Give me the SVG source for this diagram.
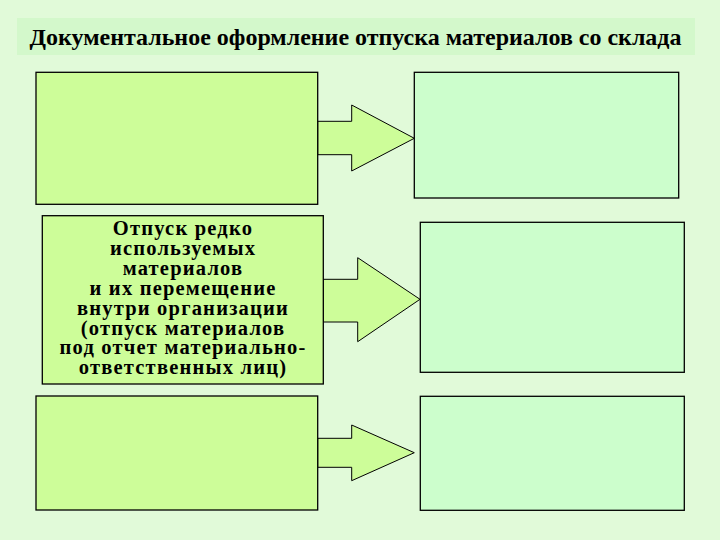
<svg xmlns="http://www.w3.org/2000/svg" width="720" height="540" viewBox="0 0 720 540">
<style>
.bg{fill:#e1fad9}
.bar{fill:#d3f8cb}
.lbox{fill:#cdfd99;stroke:#000;stroke-width:1.3}
.rbox{fill:#ccfecc;stroke:#000;stroke-width:1.3}
.arr{fill:#cdfd99;stroke:#000;stroke-width:1}
.title{font-family:"Liberation Serif","Times New Roman",serif;font-weight:bold;font-size:23px;fill:#000}
.lbl{font-family:"Liberation Serif","Times New Roman",serif;font-weight:bold;font-size:20.5px;letter-spacing:1.2px;fill:#000;text-anchor:middle}
</style>
<rect class="bg" x="0" y="0" width="720" height="540"/>
<g id="title">
<rect class="bar" x="17" y="18" width="678" height="37"/>
<text class="title" x="29.5" y="45" textLength="652" lengthAdjust="spacingAndGlyphs">Документальное оформление отпуска материалов со склада</text>
</g>
<g id="connectors">
<polygon class="arr" points="317.7,121.3 351.7,121.3 351.7,105 414.3,138.3 351.7,171 351.7,154.7 317.7,154.7"/>
<polygon class="arr" points="323.3,279.3 357.7,279.3 357.7,257.7 420,299.3 357.7,341.7 357.7,322 323.3,322"/>
<polygon class="arr" points="317.7,438.3 351.7,438.3 351.7,425 414.3,452.7 351.7,480.7 351.7,467.3 317.7,467.3"/>
</g>
<g id="left-top"><rect class="lbox" x="36" y="72.3" width="281.7" height="132"/></g>
<g id="left-middle">
<rect class="lbox" x="42.3" y="215.7" width="281" height="168.3"/>
<text class="lbl" x="183" y="235">Отпуск редко</text>
<text class="lbl" x="183" y="254.9">используемых</text>
<text class="lbl" x="183" y="274.8">материалов</text>
<text class="lbl" x="183" y="294.7">и их перемещение</text>
<text class="lbl" x="183" y="314.6">внутри организации</text>
<text class="lbl" x="183" y="334.5">(отпуск материалов</text>
<text class="lbl" x="183" y="354.4">под отчет материально-</text>
<text class="lbl" x="183" y="374.3">ответственных лиц)</text>
</g>
<g id="left-bottom"><rect class="lbox" x="36" y="396" width="281.7" height="114"/></g>
<g id="right-top"><rect class="rbox" x="414.3" y="72.3" width="264.4" height="125.7"/></g>
<g id="right-middle"><rect class="rbox" x="420.3" y="222.3" width="264" height="150"/></g>
<g id="right-bottom"><rect class="rbox" x="420.3" y="396.3" width="264" height="114"/></g>
</svg>
